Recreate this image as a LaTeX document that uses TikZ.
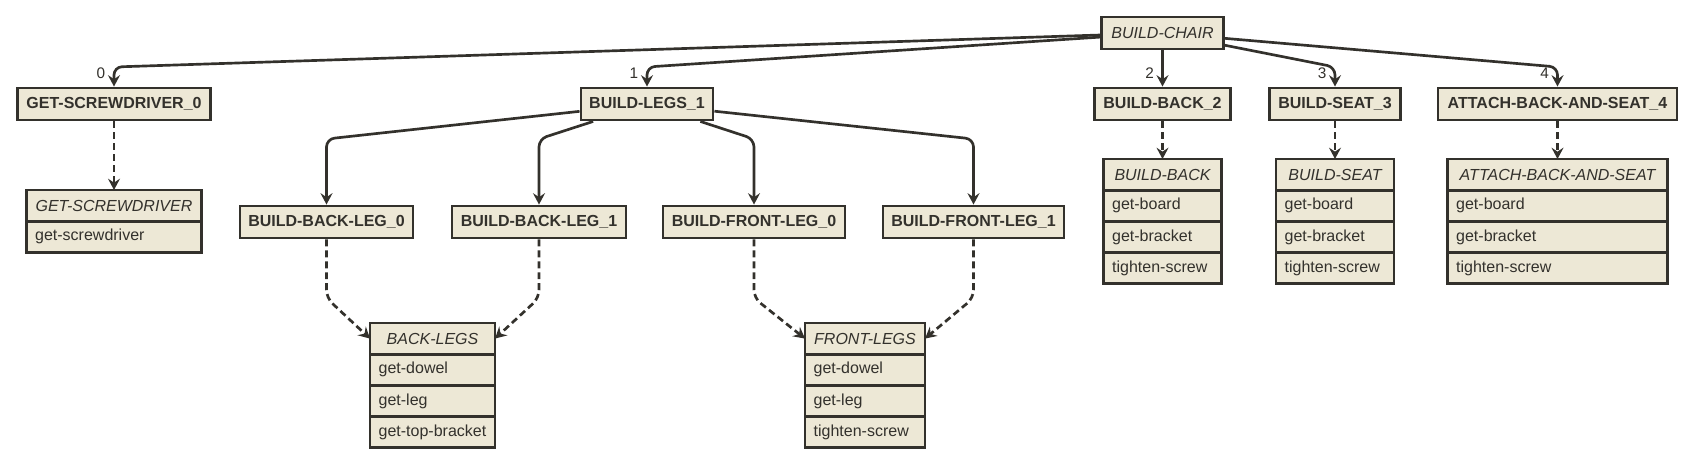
\documentclass[tikz,border=0pt]{standalone}
\usepackage{fontspec}
\setmainfont{Liberation Sans}
\usetikzlibrary{arrows.meta,calc}
\definecolor{boxfill}{RGB}{237,232,214}
\definecolor{ink}{RGB}{51,49,44}
\begin{document}
\begin{tikzpicture}[x=0.75pt,y=-0.75pt,
  font=\fontsize{12}{14}\selectfont,
  every node/.style={text=ink},
  box/.style={draw=ink, fill=boxfill, line width=2.2pt, minimum height=24pt,
    inner sep=0pt, font=\fontsize{12}{14}\selectfont\bfseries, minimum width=#1},
  ibox/.style={box=#1, font=\fontsize{12}{14}\selectfont\itshape},
  thead/.style={draw=ink, fill=boxfill, line width=2.2pt, minimum height=23.4pt,
    inner sep=0pt, outer sep=0pt, font=\fontsize{12}{14}\selectfont\itshape, minimum width=#1, anchor=north},
  trow/.style={draw=ink, fill=boxfill, line width=2.2pt, minimum height=23.4pt,
    inner xsep=6.5pt, inner ysep=0pt, outer sep=0pt, align=left, text width=#1-13pt, anchor=north},
  lbl/.style={font=\fontsize{11.5}{13}\selectfont, inner sep=0pt},
  edge/.style={draw=ink, line width=2pt, rounded corners=6pt,
    -{Stealth[length=8.5pt,width=9pt,inset=3pt]}},
  dep/.style={edge, dash pattern=on 5.2pt off 3pt}
]
\fill[white] (0,0) rectangle (1688,473);
\useasboundingbox (0,0) rectangle (1688,473);

\coordinate (r1) at (0,67);
\coordinate (r2) at (0,139);
\coordinate (r3) at (0,298);

% top
\node[ibox=91.5pt] (chair) at (1162.5,33) {BUILD-CHAIR};

% first level
\node[box=144.75pt] (gs0) at (114,104) {GET-SCREWDRIVER\_0};
\node[box=99pt] (legs1) at (647,104) {BUILD-LEGS\_1};
\node[box=102pt] (back2) at (1162.5,104) {BUILD-BACK\_2};
\node[box=98.25pt] (seat3) at (1335,104) {BUILD-SEAT\_3};
\node[box=179.25pt] (attach4) at (1557.5,104) {ATTACH-BACK-AND-SEAT\_4};

% legs
\node[box=129.75pt] (bl0) at (326.5,222) {BUILD-BACK-LEG\_0};
\node[box=130.5pt] (bl1) at (539,222) {BUILD-BACK-LEG\_1};
\node[box=136.5pt] (fl0) at (754,222) {BUILD-FRONT-LEG\_0};
\node[box=135.75pt] (fl1) at (973.5,222) {BUILD-FRONT-LEG\_1};

% tables
\node[thead=131.25pt] (gsT) at (114,190) {GET-SCREWDRIVER};
\node[trow=131.25pt] (gsT1) at (gsT.south) {get-screwdriver};

\node[thead=88.5pt] (backT) at (1162.5,159) {BUILD-BACK};
\node[trow=88.5pt] (backT1) at (backT.south) {get-board};
\node[trow=88.5pt] (backT2) at (backT1.south) {get-bracket};
\node[trow=88.5pt] (backT3) at (backT2.south) {tighten-screw};

\node[thead=88.5pt] (seatT) at (1335,159) {BUILD-SEAT};
\node[trow=88.5pt] (seatT1) at (seatT.south) {get-board};
\node[trow=88.5pt] (seatT2) at (seatT1.south) {get-bracket};
\node[trow=88.5pt] (seatT3) at (seatT2.south) {tighten-screw};

\node[thead=165pt] (attachT) at (1557.5,159) {ATTACH-BACK-AND-SEAT};
\node[trow=165pt] (attachT1) at (attachT.south) {get-board};
\node[trow=165pt] (attachT2) at (attachT1.south) {get-bracket};
\node[trow=165pt] (attachT3) at (attachT2.south) {tighten-screw};

\node[thead=93.75pt] (blT) at (432.5,323) {BACK-LEGS};
\node[trow=93.75pt] (blT1) at (blT.south) {get-dowel};
\node[trow=93.75pt] (blT2) at (blT1.south) {get-leg};
\node[trow=93.75pt] (blT3) at (blT2.south) {get-top-bracket};

\node[thead=90pt] (flT) at (865,323) {FRONT-LEGS};
\node[trow=90pt] (flT1) at (flT.south) {get-dowel};
\node[trow=90pt] (flT2) at (flT1.south) {get-leg};
\node[trow=90pt] (flT3) at (flT2.south) {tighten-screw};

% edges from BUILD-CHAIR
\draw[edge] (chair) -- (gs0.north |- r1) -- (gs0.north);
\draw[edge] (chair) -- (legs1.north |- r1) -- (legs1.north);
\draw[edge] (chair.south) -- (back2.north);
\draw[edge] (chair) -- (seat3.north |- r1) -- (seat3.north);
\draw[edge] (chair) -- (attach4.north |- r1) -- (attach4.north);

\node[lbl] (l0) at ($(gs0.north)+(-13,-13)$) {0};
\node[lbl] (l1) at ($(legs1.north)+(-13,-13)$) {1};
\node[lbl] (l2) at ($(back2.north)+(-13,-13)$) {2};
\node[lbl] (l3) at ($(seat3.north)+(-13,-13)$) {3};
\node[lbl] (l4) at ($(attach4.north)+(-13,-13)$) {4};

% edges from BUILD-LEGS_1
\draw[edge] (legs1) -- (bl0.north |- r2) -- (bl0.north);
\draw[edge] (legs1) -- (bl1.north |- r2) -- (bl1.north);
\draw[edge] (legs1) -- (fl0.north |- r2) -- (fl0.north);
\draw[edge] (legs1) -- (fl1.north |- r2) -- (fl1.north);

% dashed
\draw[dep] (gs0.south) -- (gsT.north);
\draw[dep] (back2.south) -- (backT.north);
\draw[dep] (seat3.south) -- (seatT.north);
\draw[dep] (attach4.south) -- (attachT.north);
\draw[dep] (bl0.south) -- (bl0.south |- r3) -- (blT.west);
\draw[dep] (bl1.south) -- (bl1.south |- r3) -- (blT.east);
\draw[dep] (fl0.south) -- (fl0.south |- r3) -- (flT.west);
\draw[dep] (fl1.south) -- (fl1.south |- r3) -- (flT.east);
\end{tikzpicture}
\end{document}
